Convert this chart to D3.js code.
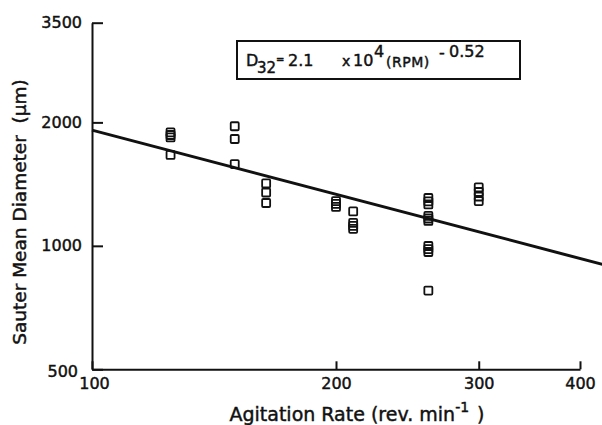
<!DOCTYPE html>
<html>
<head>
<meta charset="utf-8">
<script src="https://cdn.jsdelivr.net/npm/d3@7"></script>
<style>
  html, body { margin: 0; padding: 0; background: #fff; }
  svg { display: block; }
  text { font-family: "DejaVu Sans", sans-serif; fill: #111; stroke: #111; stroke-width: 0.45px; }
</style>
</head>
<body>
<svg id="chart" width="602" height="425"></svg>
<script>
// Agitation rate (rev/min) of each measurement
const rpm = [
  125, 125, 125, 125,
  150, 150, 150,
  164, 164, 164,
  200, 200, 200,
  210, 210, 210, 210,
  260, 260, 260, 260, 260, 260, 260, 260, 260, 260,
  300, 300, 300, 300
];
// Sauter mean diameter D32 (µm) of each measurement
const diameter = [
  1890, 1863, 1838, 1666,
  1957, 1822, 1583,
  1420, 1349, 1272,
  1285, 1265, 1244,
  1213, 1137, 1118, 1100,
  1308, 1283, 1262, 1183, 1166, 1150, 999, 982, 966, 778,
  1388, 1353, 1319, 1286
];
const xTicks = [100, 200, 300, 400];
const yTicks = [500, 1000, 2000, 3500];
// Correlation D32 = 2.1e4 * RPM^-0.52
const fitCoef = 2.1e4;
const fitExp = -0.52;
const fitRange = [100, 427];

const svg = d3.select("#chart");

const x = d3.scaleLog().domain([100, 400]).range([92, 580]);
const y = d3.scaleLog().domain([500, 3500]).range([369.3, 22.7]);

// Axes
const xAxis = svg.append("g")
  .attr("transform", `translate(0,${y(500)})`)
  .call(d3.axisBottom(x).tickValues(xTicks).tickFormat(d3.format("d"))
    .tickSize(-8).tickSizeOuter(0).tickPadding(8));

const yAxis = svg.append("g")
  .attr("transform", `translate(${x(100)},0)`)
  .call(d3.axisLeft(y).tickValues(yTicks).tickFormat(d3.format("d"))
    .tickSize(-11).tickSizeOuter(0).tickPadding(10));

[xAxis, yAxis].forEach(g => {
  g.select(".domain").attr("stroke", "#111").attr("stroke-width", 2);
  g.selectAll(".tick line").attr("stroke", "#111").attr("stroke-width", 2);
  g.selectAll(".tick text")
    .attr("font-family", "DejaVu Sans, sans-serif")
    .attr("font-size", 16)
    .attr("fill", "#111");
});
// keep the lowest labels of the two axes apart at the corner
yAxis.selectAll(".tick text").filter(d => d === 500).attr("dx", -4).attr("dy", "0.45em");
xAxis.selectAll(".tick text").filter(d => d === 100).attr("dx", 2);

// Fitted correlation line
const fitLine = d3.line().x(d => x(d)).y(d => y(fitCoef * Math.pow(d, fitExp)));
svg.append("path")
  .datum(fitRange)
  .attr("d", fitLine)
  .attr("fill", "none")
  .attr("stroke", "#111")
  .attr("stroke-width", 3);

// Measurements as open squares
const side = 8;
svg.append("g")
  .selectAll("rect")
  .data(rpm.map((r, i) => ({ r, d: diameter[i] })))
  .join("rect")
  .attr("x", p => x(p.r) - side / 2)
  .attr("y", p => y(p.d) - side / 2)
  .attr("width", side)
  .attr("height", side)
  .attr("rx", 1)
  .attr("fill", "none")
  .attr("stroke", "#111")
  .attr("stroke-width", 1.8);

// Equation box
const eq = svg.append("g");
eq.append("rect")
  .attr("x", 237).attr("y", 41).attr("width", 283).attr("height", 38)
  .attr("fill", "none").attr("stroke", "#111").attr("stroke-width", 2);
const eqParts = [
  { t: "D", x: 246, y: 66, s: 16 },
  { t: "32", x: 257, y: 73, s: 15 },
  { t: "=", x: 276, y: 63, s: 10 },
  { t: "2.1", x: 288, y: 66, s: 16 },
  { t: "x", x: 342, y: 66, s: 14 },
  { t: "10", x: 353, y: 66, s: 16 },
  { t: "4", x: 374, y: 57, s: 16 },
  { t: "(RPM)", x: 386, y: 67, s: 14, ls: 0.5 },
  { t: "-", x: 439, y: 58, s: 16 },
  { t: "0.52", x: 449, y: 57, s: 16 }
];
eq.selectAll("text")
  .data(eqParts)
  .join("text")
  .attr("x", d => d.x)
  .attr("y", d => d.y)
  .attr("font-size", d => d.s)
  .attr("letter-spacing", d => d.ls || 0)
  .text(d => d.t);

// Axis titles
const xTitle = svg.append("text")
  .attr("x", 357).attr("y", 421)
  .attr("text-anchor", "middle")
  .attr("font-size", 19);
xTitle.append("tspan").text("Agitation Rate (rev. min");
xTitle.append("tspan").attr("dy", -9).attr("font-size", 14).text("-1");
xTitle.append("tspan").attr("dy", 9).attr("dx", 8).text(")");

svg.append("text")
  .attr("transform", "translate(26,212) rotate(-90)")
  .attr("text-anchor", "middle")
  .attr("font-size", 18.5)
  .style("white-space", "pre")
  .text("Sauter Mean Diameter  (µm)");
</script>
</body>
</html>
